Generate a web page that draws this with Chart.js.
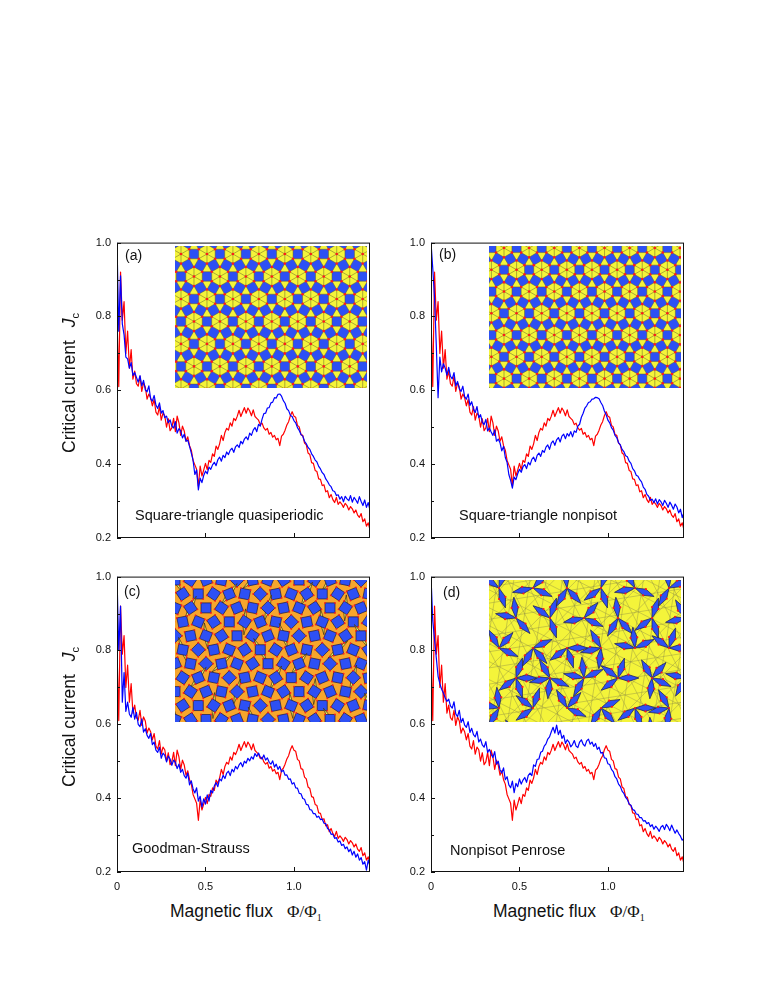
<!DOCTYPE html>
<html>
<head>
<meta charset="utf-8">
<script src="https://cdn.jsdelivr.net/npm/chart.js@4.4.1/dist/chart.umd.min.js"></script>
<style>
  body { margin: 0; background: #fff; width: 763px; height: 987px; position: relative; overflow: hidden;
         font-family: "Liberation Sans", Arial, sans-serif; color: #111; }
  canvas { position: absolute; }
  .txt { position: absolute; white-space: nowrap; line-height: 1; }
  .plabel { font-size: 14px; }
  .pname { font-size: 14.5px; }
  .ytitle { position: absolute; white-space: nowrap; line-height: 1; font-size: 17.5px;
            transform-origin: 0 0; transform: rotate(-90deg); }
  .ytitle .jc { margin-left: 13px; }
  .ytitle .sub { font-size: 11px; position: relative; top: 4px; }
  .xtitle { position: absolute; white-space: nowrap; line-height: 1; font-size: 17.5px; }
  .xtitle .phi { font-family: "Liberation Serif", "Times New Roman", serif; font-size: 17px; margin-left: 14px; }
  .xtitle .sub { font-size: 10px; position: relative; top: 4px; }
</style>
</head>
<body>
<canvas id="pa" width="303" height="333" style="left:77px;top:230px"></canvas>
<canvas id="pb" width="303" height="333" style="left:391px;top:230px"></canvas>
<canvas id="pc" width="303" height="333" style="left:77px;top:564px"></canvas>
<canvas id="pd" width="303" height="333" style="left:391px;top:564px"></canvas>

<div class="ytitle" style="left:61px;top:453px">Critical current<span class="jc"><i>J</i><span class="sub">c</span></span></div>
<div class="ytitle" style="left:61px;top:787px">Critical current<span class="jc"><i>J</i><span class="sub">c</span></span></div>
<div class="xtitle" style="left:170px;top:903px">Magnetic flux<span class="phi">Φ/Φ<span class="sub">1</span></span></div>
<div class="xtitle" style="left:493px;top:903px">Magnetic flux<span class="phi">Φ/Φ<span class="sub">1</span></span></div>

<div class="txt plabel" style="left:125px;top:248px">(a)</div>
<div class="txt plabel" style="left:439px;top:247px">(b)</div>
<div class="txt plabel" style="left:124px;top:584px">(c)</div>
<div class="txt plabel" style="left:443px;top:585px">(d)</div>

<div class="txt pname" style="left:135px;top:508px">Square-triangle quasiperiodic</div>
<div class="txt pname" style="left:459px;top:508px">Square-triangle nonpisot</div>
<div class="txt pname" style="left:132px;top:841px">Goodman-Strauss</div>
<div class="txt pname" style="left:450px;top:843px">Nonpisot Penrose</div>

<script>
// sampling grid of the flux axis, Phi/Phi1 = 0.00 ... 1.43
const flux = Array.from({ length: 144 }, (_, i) => i / 100);

// periodic reference (red), same in every panel
const red = [
  0.80, 0.61, 0.92, 0.79, 0.84, 0.70, 0.76, 0.66, 0.71, 0.63,
  0.652, 0.618, 0.611, 0.638, 0.597, 0.62, 0.609, 0.576, 0.59, 0.58,
  0.558, 0.575, 0.541, 0.533, 0.556, 0.519, 0.538, 0.531, 0.50, 0.523,
  0.491, 0.498, 0.524, 0.488, 0.53, 0.512, 0.478, 0.503, 0.49, 0.462,
  0.474, 0.45, 0.438, 0.41, 0.398, 0.386, 0.34, 0.395, 0.368, 0.384,
  0.402, 0.385, 0.41, 0.405, 0.428, 0.421, 0.449, 0.44, 0.455, 0.478,
  0.464, 0.486, 0.497, 0.492, 0.512, 0.503, 0.524, 0.518, 0.53, 0.546,
  0.529, 0.541, 0.553, 0.538, 0.552, 0.544, 0.531, 0.547, 0.529, 0.524,
  0.519, 0.507, 0.511, 0.498, 0.492, 0.497, 0.481, 0.486, 0.473, 0.478,
  0.466, 0.47, 0.45, 0.476, 0.481, 0.492, 0.506, 0.515, 0.531, 0.542,
  0.53, 0.527, 0.505, 0.501, 0.48, 0.478, 0.457, 0.452, 0.43, 0.426,
  0.404, 0.402, 0.383, 0.38, 0.36, 0.359, 0.342, 0.344, 0.325, 0.328,
  0.309, 0.318, 0.304, 0.296, 0.31, 0.291, 0.298, 0.292, 0.283, 0.294,
  0.288, 0.276, 0.285, 0.279, 0.268, 0.276, 0.262, 0.256, 0.266, 0.244,
  0.252, 0.232, 0.241, 0.222
];

// (a) square-triangle quasiperiodic
const blueA = [
  1.00, 0.76, 0.91, 0.78, 0.75, 0.69, 0.685, 0.66, 0.675, 0.64,
  0.648, 0.635, 0.622, 0.64, 0.612, 0.627, 0.601, 0.596, 0.612, 0.577,
  0.571, 0.586, 0.56, 0.551, 0.566, 0.538, 0.545, 0.526, 0.53, 0.512,
  0.52, 0.503, 0.498, 0.515, 0.484, 0.496, 0.49, 0.471, 0.481, 0.462,
  0.465, 0.448, 0.43, 0.41, 0.372, 0.384, 0.33, 0.362, 0.35, 0.369,
  0.381, 0.374, 0.392, 0.386, 0.398, 0.405, 0.396, 0.412, 0.419, 0.408,
  0.424, 0.418, 0.433, 0.426, 0.438, 0.443, 0.432, 0.447, 0.452, 0.445,
  0.462, 0.455, 0.468, 0.474, 0.466, 0.484, 0.478, 0.492, 0.499, 0.488,
  0.508, 0.503, 0.522, 0.537, 0.538, 0.552, 0.553, 0.566, 0.568, 0.58,
  0.579, 0.589, 0.59, 0.584, 0.572, 0.565, 0.55, 0.545, 0.532, 0.529,
  0.518, 0.512, 0.499, 0.491, 0.48, 0.476, 0.462, 0.455, 0.445, 0.44,
  0.428, 0.421, 0.411, 0.406, 0.394, 0.387, 0.377, 0.372, 0.36, 0.353,
  0.344, 0.339, 0.328, 0.326, 0.315, 0.317, 0.305, 0.312, 0.298, 0.313,
  0.306, 0.301, 0.315, 0.297, 0.31, 0.303, 0.294, 0.312, 0.299, 0.288,
  0.303, 0.283, 0.296, 0.275
];

// (b) square-triangle nonpisot
const blueB = [
  1.00, 0.93, 0.85, 0.72, 0.58, 0.69, 0.65, 0.672, 0.66, 0.641,
  0.662, 0.638, 0.631, 0.648, 0.612, 0.624, 0.604, 0.597, 0.611, 0.583,
  0.576, 0.59, 0.559, 0.569, 0.549, 0.54, 0.556, 0.526, 0.534, 0.514,
  0.507, 0.521, 0.49, 0.498, 0.487, 0.478, 0.493, 0.462, 0.468, 0.458,
  0.436, 0.448, 0.418, 0.405, 0.372, 0.356, 0.335, 0.365, 0.358, 0.374,
  0.386, 0.378, 0.393, 0.399, 0.388, 0.405, 0.398, 0.413, 0.419, 0.407,
  0.424, 0.43, 0.421, 0.437, 0.432, 0.446, 0.452, 0.44, 0.457, 0.463,
  0.451, 0.466, 0.472, 0.46, 0.476, 0.481, 0.469, 0.483, 0.476, 0.488,
  0.474, 0.49, 0.486, 0.503, 0.508, 0.527, 0.538, 0.552, 0.558, 0.567,
  0.569, 0.576, 0.577, 0.581, 0.58, 0.577, 0.567, 0.559, 0.544, 0.534,
  0.519, 0.512, 0.499, 0.492, 0.478, 0.472, 0.458, 0.452, 0.44, 0.434,
  0.423, 0.42, 0.408, 0.402, 0.388, 0.382, 0.37, 0.367, 0.358, 0.352,
  0.338, 0.332, 0.318, 0.313, 0.302, 0.305, 0.296, 0.306, 0.292, 0.304,
  0.298, 0.288, 0.302, 0.294, 0.283, 0.297, 0.289, 0.278, 0.292, 0.284,
  0.268, 0.278, 0.255, 0.27
];

// (c) Goodman-Strauss
const blueC = [
  1.00, 0.80, 0.92, 0.66, 0.74, 0.635, 0.66, 0.628, 0.619, 0.645,
  0.614, 0.632, 0.60, 0.594, 0.615, 0.579, 0.588, 0.57, 0.562, 0.575,
  0.545, 0.552, 0.53, 0.524, 0.538, 0.508, 0.522, 0.516, 0.498, 0.514,
  0.506, 0.489, 0.503, 0.497, 0.48, 0.492, 0.47, 0.478, 0.461, 0.454,
  0.468, 0.436, 0.447, 0.425, 0.414, 0.428, 0.392, 0.405, 0.376, 0.398,
  0.384, 0.409, 0.392, 0.421, 0.414, 0.433, 0.442, 0.431, 0.452, 0.447,
  0.462, 0.453, 0.468, 0.473, 0.461, 0.478, 0.471, 0.486, 0.479, 0.49,
  0.496, 0.485, 0.50, 0.495, 0.508, 0.501, 0.512, 0.506, 0.521, 0.513,
  0.522, 0.511, 0.506, 0.517, 0.503, 0.509, 0.497, 0.492, 0.501, 0.484,
  0.492, 0.478, 0.486, 0.471, 0.476, 0.462, 0.463, 0.451, 0.452, 0.438,
  0.442, 0.428, 0.427, 0.413, 0.412, 0.399, 0.397, 0.383, 0.382, 0.369,
  0.368, 0.358, 0.358, 0.348, 0.351, 0.342, 0.343, 0.332, 0.331, 0.318,
  0.314, 0.302, 0.303, 0.291, 0.293, 0.281, 0.284, 0.272, 0.275, 0.263,
  0.268, 0.255, 0.262, 0.246, 0.256, 0.24, 0.249, 0.232, 0.239, 0.221,
  0.228, 0.205, 0.232, 0.215
];

// (d) nonpisot Penrose
const blueD = [
  1.00, 0.88, 0.83, 0.78, 0.73, 0.71, 0.695, 0.685, 0.672, 0.662,
  0.668, 0.65, 0.644, 0.661, 0.628, 0.621, 0.638, 0.605, 0.616, 0.598,
  0.592, 0.607, 0.578, 0.589, 0.572, 0.566, 0.581, 0.552, 0.56, 0.544,
  0.538, 0.553, 0.524, 0.532, 0.519, 0.51, 0.526, 0.492, 0.50, 0.477,
  0.468, 0.482, 0.45, 0.458, 0.436, 0.428, 0.446, 0.415, 0.44, 0.431,
  0.452, 0.438, 0.449, 0.456, 0.443, 0.462, 0.468, 0.461, 0.49, 0.486,
  0.505, 0.506, 0.524, 0.527, 0.541, 0.547, 0.56, 0.566, 0.58, 0.592,
  0.576, 0.598, 0.572, 0.584, 0.562, 0.57, 0.548, 0.558, 0.552, 0.539,
  0.545, 0.556, 0.541, 0.537, 0.552, 0.558, 0.546, 0.541, 0.555, 0.56,
  0.546, 0.552, 0.54, 0.548, 0.532, 0.538, 0.522, 0.524, 0.509, 0.508,
  0.493, 0.491, 0.478, 0.472, 0.458, 0.452, 0.438, 0.432, 0.419, 0.413,
  0.402, 0.396, 0.384, 0.381, 0.369, 0.367, 0.357, 0.356, 0.347, 0.347,
  0.338, 0.339, 0.331, 0.334, 0.323, 0.328, 0.316, 0.324, 0.318, 0.31,
  0.322, 0.326, 0.315, 0.329, 0.322, 0.312, 0.327, 0.316, 0.305, 0.314,
  0.304, 0.297, 0.286, 0.292
];

const xTicks = [0, 0.5, 1.0];
const yTicks = [0.2, 0.4, 0.6, 0.8, 1.0];
const yMinor = [0.3, 0.5, 0.7, 0.9];

const FONT = '"Liberation Sans", Arial, sans-serif';
const TILE_BLUE = '#2d50f4';
const TILE_YELLOW = '#f4f43a';
const TILE_ORANGE = '#f7a62c';
const DOT = '#ff1a1a';

function toPts(arr) {
  return flux.map((x, i) => ({ x: x, y: arr[i] }));
}

function u(deg) {
  const t = deg * Math.PI / 180;
  return [Math.cos(t), Math.sin(t)];
}

function poly(ctx, pts, fill, stroke) {
  ctx.beginPath();
  ctx.moveTo(pts[0][0], pts[0][1]);
  for (let k = 1; k < pts.length; k++) ctx.lineTo(pts[k][0], pts[k][1]);
  ctx.closePath();
  if (fill) { ctx.fillStyle = fill; ctx.fill(); }
  if (stroke) { ctx.strokeStyle = stroke; ctx.stroke(); }
}

function dots(ctx, pts, r) {
  ctx.fillStyle = DOT;
  pts.forEach(p => { ctx.beginPath(); ctx.arc(p[0], p[1], r, 0, Math.PI * 2); ctx.fill(); });
}

// squares + triangles: hexagons of six triangles ringed by squares
function drawSquareTriangle(ctx, L, T, W, H, a, ox, oy) {
  const r3 = Math.sqrt(3), d = a * (1 + r3);
  ctx.fillStyle = TILE_BLUE;
  ctx.fillRect(L, T, W, H);
  ctx.lineWidth = 0.6;
  const edge = 'rgba(90,90,40,0.8)';
  const pts = [];
  const rows = Math.ceil(H / (d * r3 / 2)) + 2;
  const cols = Math.ceil(W / d) + 3;
  for (let j = -1; j < rows; j++) {
    for (let i = -Math.ceil(rows / 2) - 2; i < cols; i++) {
      const cx = L + ox + i * d + j * d / 2;
      const cy = T + oy + j * d * r3 / 2;
      const hex = [];
      for (let k = 0; k < 6; k++) {
        const v = u(30 + 60 * k);
        hex.push([cx + a * v[0], cy + a * v[1]]);
      }
      poly(ctx, hex, TILE_YELLOW, edge);
      ctx.beginPath();
      hex.forEach(p => { ctx.moveTo(cx, cy); ctx.lineTo(p[0], p[1]); });
      ctx.strokeStyle = edge;
      ctx.stroke();
      const n0 = [cx + d, cy];
      const n60 = [cx + d / 2, cy + d * r3 / 2];
      const nm60 = [cx + d / 2, cy - d * r3 / 2];
      const t1 = [hex[0], [n0[0] + a * u(150)[0], n0[1] + a * u(150)[1]], [n60[0], n60[1] - a]];
      const t2 = [hex[5], [n0[0] + a * u(210)[0], n0[1] + a * u(210)[1]], [nm60[0], nm60[1] + a]];
      poly(ctx, t1, TILE_YELLOW, edge);
      poly(ctx, t2, TILE_YELLOW, edge);
      pts.push([cx, cy], ...hex);
    }
  }
  dots(ctx, pts, 1.3);
}

// blue squares in rotating arrangement on orange rhombi
function drawGoodman(ctx, L, T, W, H) {
  ctx.fillStyle = TILE_ORANGE;
  ctx.fillRect(L, T, W, H);
  const s = 15.5, side = 10, r = side / Math.SQRT2;
  ctx.lineWidth = 0.7;
  const pts = [];
  for (let j = -1; j * s * 0.9 < H + s; j++) {
    for (let i = -1; i * s < W + s; i++) {
      const cx = L + i * s + (j % 2 ? s / 2 : 0);
      const cy = T + j * s * 0.9;
      const ang = ((i * 3 + j * 5) % 8) * 22.5 / 2;
      if ((i + 2 * j) % 5 === 0) {
        const v = u(ang + 60), w = u(ang + 150);
        const sl = [[cx - 13 * v[0], cy - 13 * v[1]], [cx + 2.2 * w[0], cy + 2.2 * w[1]],
                    [cx + 13 * v[0], cy + 13 * v[1]], [cx - 2.2 * w[0], cy - 2.2 * w[1]]];
        poly(ctx, sl, '#f6f05a', '#3a2a10');
      }
      const sq = [];
      for (let k = 0; k < 4; k++) {
        const v = u(ang + 45 + 90 * k);
        sq.push([cx + r * v[0], cy + r * v[1]]);
      }
      poly(ctx, sq, TILE_BLUE, '#1a1a40');
      pts.push(...sq);
    }
  }
  dots(ctx, pts, 0.9);
}

// yellow rhombus mesh with small clusters of thin blue rhombi
function drawPenrose(ctx, L, T, W, H) {
  ctx.fillStyle = TILE_YELLOW;
  ctx.fillRect(L, T, W, H);
  const cx0 = L + W / 2, cy0 = T + H / 2, R = Math.hypot(W, H) / 2 + 10, sp = 16;
  ctx.strokeStyle = 'rgba(140,140,70,0.6)';
  ctx.lineWidth = 0.7;
  ctx.beginPath();
  for (let k = 0; k < 5; k++) {
    const n = u(72 * k + 9), t = [-n[1], n[0]];
    for (let c = -R; c <= R; c += sp) {
      const off = c + k * 3.1;
      const px = cx0 + n[0] * off, py = cy0 + n[1] * off;
      ctx.moveTo(px - t[0] * R, py - t[1] * R);
      ctx.lineTo(px + t[0] * R, py + t[1] * R);
    }
  }
  ctx.stroke();
  const side = 11, pts = [];
  for (let j = 0; j * 30 < H + 20; j++) {
    for (let i = 0; i * 34 < W + 20; i++) {
      const sx = L + 10 + i * 34 + (j % 2 ? 17 : 0);
      const sy = T + 8 + j * 30;
      const rot = ((i + 2 * j) % 3) * 24;
      const skipA = (i + j) % 5, skipB = (i + 2 * j + 2) % 5;
      for (let m = 0; m < 5; m++) {
        if (m === skipA || m === skipB) continue;
        const th = rot + m * 72;
        const p1 = u(th - 18), p3 = u(th + 18);
        const rh = [[sx, sy], [sx + side * p1[0], sy + side * p1[1]],
                    [sx + side * (p1[0] + p3[0]), sy + side * (p1[1] + p3[1])],
                    [sx + side * p3[0], sy + side * p3[1]]];
        poly(ctx, rh, TILE_BLUE, '#1a1a50');
        pts.push(rh[1], rh[3]);
      }
      pts.push([sx, sy]);
    }
  }
  dots(ctx, pts, 1.1);
}

const framePlugin = {
  id: 'frame',
  afterDraw(chart) {
    const { ctx, chartArea: a, scales } = chart;
    ctx.save();
    ctx.strokeStyle = '#111';
    ctx.lineWidth = 1;
    ctx.strokeRect(a.left + 0.5, a.top + 0.5, a.width - 1, a.height - 1);
    ctx.beginPath();
    yTicks.forEach(v => {
      const py = Math.round(scales.y.getPixelForValue(v)) + 0.5;
      ctx.moveTo(a.left, py); ctx.lineTo(a.left + 4, py);
    });
    yMinor.forEach(v => {
      const py = Math.round(scales.y.getPixelForValue(v)) + 0.5;
      ctx.moveTo(a.left, py); ctx.lineTo(a.left + 3, py);
    });
    xTicks.forEach(v => {
      const px = Math.round(scales.x.getPixelForValue(v)) + 0.5;
      ctx.moveTo(px, a.bottom); ctx.lineTo(px, a.bottom - 5);
    });
    ctx.stroke();
    ctx.restore();
  }
};

function insetPlugin(kind) {
  return {
    id: 'inset',
    afterDatasetsDraw(chart) {
      const { ctx, scales: { x, y } } = chart;
      const L = Math.round(x.getPixelForValue(0.33));
      const R = Math.round(x.getPixelForValue(1.415));
      const T = Math.round(y.getPixelForValue(0.99));
      const B = Math.round(y.getPixelForValue(0.605));
      ctx.save();
      ctx.beginPath();
      ctx.rect(L, T, R - L, B - T);
      ctx.clip();
      if (kind === 'qp') drawSquareTriangle(ctx, L, T, R - L, B - T, 9.5, 6, 8);
      else if (kind === 'np') drawSquareTriangle(ctx, L, T, R - L, B - T, 9.2, 15, 2);
      else if (kind === 'gs') drawGoodman(ctx, L, T, R - L, B - T);
      else drawPenrose(ctx, L, T, R - L, B - T);
      ctx.restore();
    }
  };
}

function makePanel(id, blue, kind, showX) {
  return new Chart(document.getElementById(id), {
    type: 'line',
    data: {
      datasets: [
        { label: 'quasiperiodic', data: toPts(blue), borderColor: '#0000ff', borderWidth: 1.2,
          pointRadius: 0, tension: 0, borderJoinStyle: 'round', order: 0 },
        { label: 'periodic', data: toPts(red), borderColor: '#ff0000', borderWidth: 1.2,
          pointRadius: 0, tension: 0, borderJoinStyle: 'round', order: 1 }
      ]
    },
    options: {
      responsive: false,
      animation: false,
      events: [],
      layout: { padding: { top: 10, right: 10, left: 0, bottom: 0 } },
      plugins: { legend: { display: false }, tooltip: { enabled: false } },
      scales: {
        x: {
          type: 'linear', min: 0, max: 1.43,
          grid: { display: false, drawTicks: false },
          border: { display: false },
          ticks: { display: showX, padding: 8, color: '#111', font: { family: FONT, size: 11 },
                   maxRotation: 0, callback: v => (v === 0 ? '0' : v.toFixed(1)) },
          afterBuildTicks: s => { s.ticks = xTicks.map(v => ({ value: v })); },
          afterFit: s => { s.height = 25; }
        },
        y: {
          type: 'linear', min: 0.2, max: 1.0,
          grid: { display: false, drawTicks: false },
          border: { display: false },
          ticks: { padding: 6, color: '#111', font: { family: FONT, size: 11 },
                   callback: v => v.toFixed(1) },
          afterBuildTicks: s => { s.ticks = yTicks.map(v => ({ value: v })); },
          afterFit: s => { s.width = 40; }
        }
      }
    },
    plugins: [insetPlugin(kind), framePlugin]
  });
}

makePanel('pa', blueA, 'qp', false);
makePanel('pb', blueB, 'np', false);
makePanel('pc', blueC, 'gs', true);
makePanel('pd', blueD, 'pr', true);
</script>
</body>
</html>
